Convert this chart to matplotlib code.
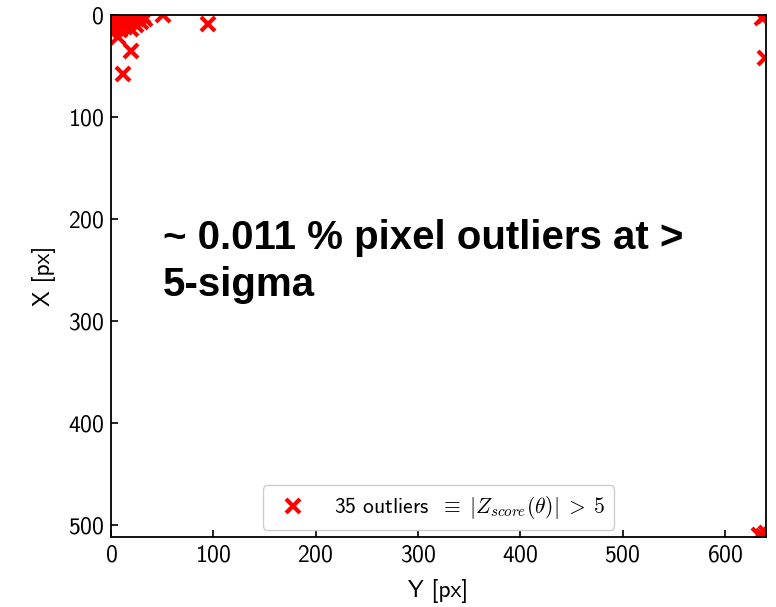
import matplotlib
matplotlib.use("Agg")
import matplotlib.pyplot as plt
import numpy as np

# outlier pixel positions: horizontal axis is "Y", vertical axis is "X"
out_y = [1, 3, 5, 6, 8, 9, 10, 11, 12, 14, 15, 16, 17, 18, 20, 21, 22, 24, 25,
         27, 29, 31, 33, 7, 4,
         12, 20, 51, 95,
         636, 639, 639,
         633, 637, 640]
out_x = [2, 6, 1, 10, 4, 15, 1, 8, 3, 12, 5, 1, 9, 3, 14, 6, 1, 10, 4,
         2, 7, 1, 4, 21, 15,
         58, 35, 0, 9,
         3, 1, 42,
         510, 511, 508]

N_OUT = len(out_y)
FRACTION = "0.011"
IMG_W, IMG_H = 640, 512

plt.rcParams["font.family"] = "cmss10"
plt.rcParams["mathtext.fontset"] = "cm"
plt.rcParams["axes.formatter.use_mathtext"] = True
plt.rcParams["axes.unicode_minus"] = False

fig = plt.figure(figsize=(7.76, 6.07), dpi=100)
ax = fig.add_axes([0.143, 0.115, 0.844, 0.860])

ax.plot(out_y, out_x, "x", color="red", ms=10, mew=3,
        label=rf"{N_OUT} outliers $\;\equiv\; |Z_{{score}}(\theta)| \;>\; 5$")

ax.set_xlim(0, IMG_W)
ax.set_ylim(IMG_H, 0)
ax.set_xlabel("Y [px]", fontsize=17, labelpad=9)
ax.set_ylabel("X [px]", fontsize=17, labelpad=8)
ax.tick_params(direction="in", length=5, width=1.2, labelsize=17, pad=5)
for sp in ax.spines.values():
    sp.set_linewidth(1.3)

ax.text(51, 200, f"~ {FRACTION} % pixel outliers at >\n5-sigma",
        family="Liberation Sans", fontweight="bold", fontsize=29,
        va="top", ha="left", linespacing=1.3)

ax.legend(loc="lower center", fontsize=15.5, framealpha=1,
          handletextpad=0.9, borderaxespad=0.35)

fig.savefig("out.png", dpi=100)
